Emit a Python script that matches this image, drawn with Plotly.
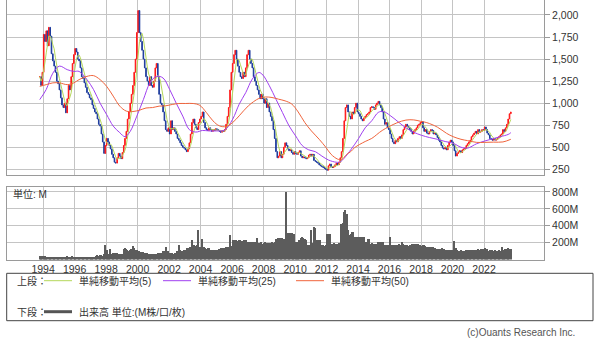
import pandas as pd
import plotly.graph_objects as go

# ---------------- data (monthly, Oct 1993 - Sep 2023) ----------------
close_1990s = [1300, 1200, 1350,
               1780, 1700, 1820, 1650, 1860, 1760, 1560, 1480, 1420, 1350, 1250, 1220,
               1150, 1060, 980, 950, 1000, 890, 1050, 1200, 1150, 1300, 1450, 1550,
               1620, 1580, 1500, 1480, 1400, 1300, 1280, 1230, 1180, 1120, 1100, 1060,
               1040, 980, 940, 900, 880, 820, 760, 740, 650, 560, 430, 520,
               600, 560, 520, 480, 420, 380, 330, 320, 380, 430, 400, 370,
               440, 520, 600, 680, 820, 900, 1000, 1100, 1200, 1350, 1500, 1800]
close_2000s = [2050, 1800, 1700, 1600, 1500, 1400, 1300, 1250, 1200, 1300, 1200, 1180,
               1250, 1400, 1450, 1300, 1100, 1000, 980, 900, 800, 700, 680, 720,
               650, 800, 700, 720, 680, 650, 600, 580, 550, 520, 500, 490,
               470, 450, 480, 550, 650, 780, 820, 760, 720, 700, 780, 820,
               850, 900, 780, 720, 700, 690, 720, 700, 680, 700, 690, 710,
               700, 690, 680, 670, 690, 680, 700, 760, 850, 950, 1150, 1350,
               1450, 1550, 1600, 1500, 1420, 1350, 1300, 1280, 1350, 1300, 1400, 1550,
               1600, 1500, 1450, 1400, 1300, 1250, 1200, 1150, 1100, 1050, 1100, 1050,
               1000, 1050, 950, 1000, 900, 850, 800, 700, 600, 450, 380, 400,
               450, 380, 420, 500, 550, 520, 480, 460, 470, 440, 420, 450]
close_2010s = [430, 420, 440, 460, 400, 380, 390, 380, 370, 380, 410, 420,
               400, 420, 350, 340, 330, 320, 300, 290, 280, 270, 260, 250,
               240, 290, 310, 280, 270, 280, 300, 320, 300, 330, 380, 450,
               600, 800, 950, 980, 900, 850, 820, 900, 880, 950, 1000, 900,
               880, 850, 820, 800, 830, 850, 870, 880, 900, 950, 960, 950,
               930, 980, 1000, 1020, 980, 950, 900, 820, 760, 780, 720, 700,
               650, 600, 560, 540, 580, 560, 600, 620, 600, 640, 700, 730,
               760, 740, 720, 700, 680, 650, 680, 700, 720, 750, 760, 780,
               790, 720, 680, 700, 660, 650, 680, 700, 690, 650, 660, 640,
               610, 580, 560, 520, 490, 480, 500, 470, 520, 560, 580, 560]
close_2020s = [520, 460, 400, 430, 450, 460, 440, 470, 480, 490, 520, 540,
               560, 580, 620, 640, 660, 680, 650, 700, 670, 680, 700, 690,
               730, 700, 660, 640, 600, 590, 580, 600, 580, 590, 610, 620,
               640, 650, 700, 680, 720, 760, 820, 880, 900]

volume_1990s = [40, 35, 40,
                40, 42, 38, 35, 33, 30, 32, 30, 35, 33, 30, 32,
                35, 30, 32, 38, 35, 30, 40, 35, 33, 38, 40, 35,
                38, 35, 32, 35, 33, 30, 32, 35, 30, 33, 35, 32,
                35, 33, 35, 38, 45, 55, 50, 55, 60, 50, 65, 170,
                115, 70, 65, 123, 70, 80, 78, 85, 80, 67, 65, 70,
                70, 130, 134, 125, 115, 110, 115, 130, 162, 140, 115, 115]
volume_2000s = [110, 100, 95, 95, 90, 80, 75, 78, 72, 70, 68, 67,
                65, 67, 70, 80, 82, 78, 85, 100, 110, 154, 106, 100,
                80, 75, 75, 72, 78, 75, 110, 170, 115, 105, 110, 115,
                120, 134, 130, 140, 150, 233, 160, 170, 165, 175, 356, 150,
                150, 241, 150, 134, 130, 135, 134, 120, 115, 110, 115, 118,
                115, 120, 130, 134, 130, 135, 140, 154, 150, 155, 290, 160,
                233, 240, 230, 235, 225, 230, 235, 228, 220, 230, 235, 215,
                213, 210, 215, 200, 210, 213, 205, 253, 200, 195, 205, 193,
                200, 205, 195, 200, 201, 198, 205, 195, 210, 241, 250, 253,
                255, 250, 260, 250, 240, 802, 320, 318, 315, 320, 310, 300]
volume_2010s = [213, 210, 215, 240, 260, 270, 255, 245, 240, 170, 175, 180,
                349, 200, 388, 380, 231, 230, 225, 235, 170, 175, 165, 170,
                309, 310, 300, 190, 185, 195, 190, 185, 190, 195, 190, 427,
                430, 565, 594, 545, 349, 290, 300, 329, 330, 270, 275, 270,
                270, 265, 275, 270, 268, 210, 205, 250, 245, 190, 195, 188,
                190, 185, 192, 210, 205, 215, 210, 208, 170, 175, 170, 172,
                270, 175, 170, 168, 172, 170, 165, 182, 180, 210, 185, 180,
                170, 172, 168, 170, 175, 190, 185, 190, 188, 185, 170, 175,
                168, 172, 170, 165, 155, 150, 148, 152, 145, 150, 135, 130,
                132, 128, 130, 125, 135, 130, 120, 118, 122, 115, 120, 118]
volume_2020s = [120, 222, 140, 115, 110, 108, 112, 110, 105, 110, 115, 112,
                118, 120, 115, 122, 118, 120, 115, 125, 118, 130, 128, 132,
                135, 130, 128, 110, 112, 108, 115, 110, 112, 108, 110, 112,
                110, 150, 115, 108, 125, 130, 135, 130, 125]

ma25_dates = ["1993-10", "1994-03", "1994-08", "1995-01", "1995-07", "1995-12", "1996-04", "1996-10",
              "1997-03", "1997-08", "1998-01", "1998-06", "1998-11", "1999-03", "1999-07", "1999-12",
              "2000-05", "2000-10", "2001-03", "2001-08", "2002-01", "2002-06", "2002-11", "2003-04",
              "2003-09", "2004-02", "2004-07", "2005-01", "2005-07", "2006-01", "2006-06", "2006-11",
              "2007-04", "2007-09", "2007-12", "2008-05", "2008-10", "2009-03", "2009-08", "2010-01",
              "2010-06", "2010-11", "2011-04", "2011-09", "2012-02", "2012-08", "2012-11", "2013-07",
              "2014-01", "2014-06", "2014-11", "2015-04", "2015-08", "2016-01", "2016-07", "2017-01",
              "2017-07", "2018-01", "2018-07", "2019-01", "2019-07", "2020-01", "2020-07", "2020-12",
              "2021-07", "2022-01", "2022-07", "2023-01", "2023-07", "2023-09"]
ma25_values = [1040, 1155, 1340, 1420, 1380, 1360, 1360, 1267,
               1155, 1000, 870, 740, 665, 620, 680, 853,
               1040, 1230, 1304, 1285, 1155, 1000, 853, 700,
               672, 690, 685, 685, 695, 818, 988, 1120,
               1273, 1348, 1320, 1197, 1045, 894, 742, 628,
               520, 470, 450, 400, 355, 330, 335, 470,
               600, 720, 800, 895, 905, 860, 790, 720,
               670, 635, 610, 590, 565, 545, 500, 490,
               540, 570, 595, 620, 645, 665]

ma50_dates = ["1993-10", "1994-03", "1994-08", "1995-01", "1995-07", "1995-12", "1996-04", "1996-10",
              "1997-03", "1997-08", "1998-01", "1998-06", "1998-11", "1999-04", "1999-09", "2000-02",
              "2000-07", "2000-12", "2001-05", "2001-10", "2002-03", "2002-08", "2003-01", "2003-07",
              "2003-12", "2004-05", "2004-10", "2005-03", "2005-08", "2006-01", "2006-06", "2007-01",
              "2007-09", "2008-02", "2008-07", "2008-12", "2009-05", "2009-10", "2010-03", "2010-08",
              "2011-01", "2011-07", "2011-12", "2012-04", "2012-09", "2012-12", "2013-04", "2013-07",
              "2013-10", "2014-06", "2014-11", "2015-07", "2016-06", "2017-01", "2017-07", "2017-12",
              "2018-05", "2019-01", "2019-08", "2020-01", "2020-07", "2020-12", "2021-07", "2022-01",
              "2022-08", "2023-03", "2023-09"]
ma50_values = [1190, 1210, 1230, 1230, 1210, 1230, 1267, 1304,
               1312, 1267, 1190, 1080, 966, 910, 905, 920,
               945, 950, 966, 970, 985, 996, 996, 996,
               975, 894, 799, 742, 735, 780, 856, 970,
               1053, 1070, 1064, 1045, 1026, 990, 900, 780,
               685, 590, 500, 420, 365, 360, 420, 450,
               496, 565, 600, 690, 775, 808, 810, 795,
               779, 728, 658, 620, 590, 575, 555, 555,
               558, 560, 590]

year_ticks = list(range(1994, 2023, 2))
price_ticks = [250, 500, 750, 1000, 1250, 1500, 1750, 2000]
volume_ticks = [200, 400, 600, 800]

# ---------------- build ----------------
close = close_1990s + close_2000s + close_2010s + close_2020s
volume = volume_1990s + volume_2000s + volume_2010s + volume_2020s
assert len(close) == len(volume)

dates = pd.date_range("1993-10-01", periods=len(close), freq="MS") + pd.Timedelta(days=14)
cs = pd.Series(close, dtype=float)
opens = cs.shift(1).fillna(cs.iloc[0])
highs = pd.concat([opens, cs], axis=1).max(axis=1)
lows = pd.concat([opens, cs], axis=1).min(axis=1)
ma5 = cs.rolling(5, min_periods=1).mean()

W, H = 600, 342
def px(x):
    return x / W
def py(y):
    return 1 - y / H

GRID = "#c4c4c4"
AXC = "#9a9a9a"
TXT = "#333333"
FONT = "Liberation Sans, Noto Sans CJK JP, sans-serif"

fig = go.Figure()
fig.add_trace(go.Candlestick(
    x=dates, open=opens, high=highs, low=lows, close=cs,
    increasing=dict(line=dict(color="#ff1a1a", width=1), fillcolor="#ff1a1a"),
    decreasing=dict(line=dict(color="#1e3c9e", width=1), fillcolor="#1e3c9e"),
    whiskerwidth=0, showlegend=False, xaxis="x", yaxis="y"))
fig.add_trace(go.Scatter(x=dates, y=ma5, mode="lines",
                         line=dict(color="#b4d75a", width=1), showlegend=False,
                         xaxis="x", yaxis="y"))
fig.add_trace(go.Scatter(x=pd.to_datetime(ma25_dates) + pd.Timedelta(days=14), y=ma25_values,
                         mode="lines", line=dict(color="#a040f0", width=1, shape="spline"),
                         showlegend=False, xaxis="x", yaxis="y"))
fig.add_trace(go.Scatter(x=pd.to_datetime(ma50_dates) + pd.Timedelta(days=14), y=ma50_values,
                         mode="lines", line=dict(color="#f0643c", width=1, shape="spline"),
                         showlegend=False, xaxis="x", yaxis="y"))
fig.add_trace(go.Bar(x=dates, y=volume, marker=dict(color="#5c5c5c", line=dict(width=0)),
                     showlegend=False, xaxis="x2", yaxis="y2"))

xr = ["1991-09-17", "2025-10-23"]
tickdates = [f"{y}-01-01" for y in year_ticks]
common_x = dict(type="date", range=xr, showgrid=True, gridcolor=GRID, gridwidth=1,
                tickvals=tickdates, showline=True, mirror=True, linecolor=AXC, linewidth=1,
                zeroline=False, domain=[px(7), px(544)], rangeslider=dict(visible=False),
                automargin=False)

fig.update_layout(
    width=W, height=H, margin=dict(l=0, r=0, t=0, b=0),
    paper_bgcolor="white", plot_bgcolor="white", template="none",
    font=dict(family=FONT, size=10, color=TXT),
    bargap=0, showlegend=False,
    xaxis=dict(common_x, anchor="y", showticklabels=False, ticks=""),
    xaxis2=dict(common_x, anchor="y2", showticklabels=True, ticks="",
                ticktext=[str(y) for y in year_ticks],
                tickfont=dict(size=10.5, color=TXT)),
    yaxis=dict(domain=[py(175), py(0)], side="right", anchor="x", range=[185, 2170],
               tickvals=price_ticks, ticktext=[f"{v:,}" for v in price_ticks],
               showgrid=True, gridcolor=GRID, ticks="outside", ticklen=5, tickcolor=AXC,
               showline=True, mirror=True, linecolor=AXC, zeroline=False,
               tickfont=dict(size=10.5, color=TXT), automargin=False),
    yaxis2=dict(domain=[py(259.5), py(186.7)], side="right", anchor="x2", range=[0, 862],
                tickvals=volume_ticks, ticktext=[f"{v}M" for v in volume_ticks],
                showgrid=True, gridcolor=GRID, ticks="outside", ticklen=5, tickcolor=AXC,
                showline=True, mirror=True, linecolor=AXC, zeroline=False,
                tickfont=dict(size=10.5, color=TXT), automargin=False),
)

shapes = [
    dict(type="rect", xref="paper", yref="paper", x0=px(6.7), x1=px(593), y0=py(320.7), y1=py(273.3),
         line=dict(color="#444444", width=1), fillcolor="rgba(0,0,0,0)"),
    dict(type="line", xref="paper", yref="paper", x0=px(44), x1=px(72), y0=py(280.7), y1=py(280.7),
         line=dict(color="#b4d75a", width=1)),
    dict(type="line", xref="paper", yref="paper", x0=px(163), x1=px(191), y0=py(280.7), y1=py(280.7),
         line=dict(color="#a040f0", width=1)),
    dict(type="line", xref="paper", yref="paper", x0=px(296), x1=px(324), y0=py(280.7), y1=py(280.7),
         line=dict(color="#f0643c", width=1)),
    dict(type="line", xref="paper", yref="paper", x0=px(44), x1=px(72), y0=py(311.7), y1=py(311.7),
         line=dict(color="#555555", width=3)),
]
fig.update_layout(shapes=shapes)

def label(x, y, text, anchor="left", size=10, color=TXT):
    fig.add_annotation(xref="paper", yref="paper", x=px(x), y=py(y), text=text,
                       showarrow=False, xanchor=anchor, yanchor="middle",
                       font=dict(size=size, color=color, family=FONT))

label(15, 280.7, "上段：")
label(77, 280.7, "単純移動平均(5)")
label(196, 280.7, "単純移動平均(25)")
label(329, 280.7, "単純移動平均(50)")
label(15, 311.7, "下段：")
label(77, 311.7, "出来高 単位:(M株/口/枚)")
label(11, 193.5, "単位: M")
label(577, 332.3, "(c)Ouants Research Inc.", anchor="right", size=10, color="#555555")

fig.write_html("out.html")
